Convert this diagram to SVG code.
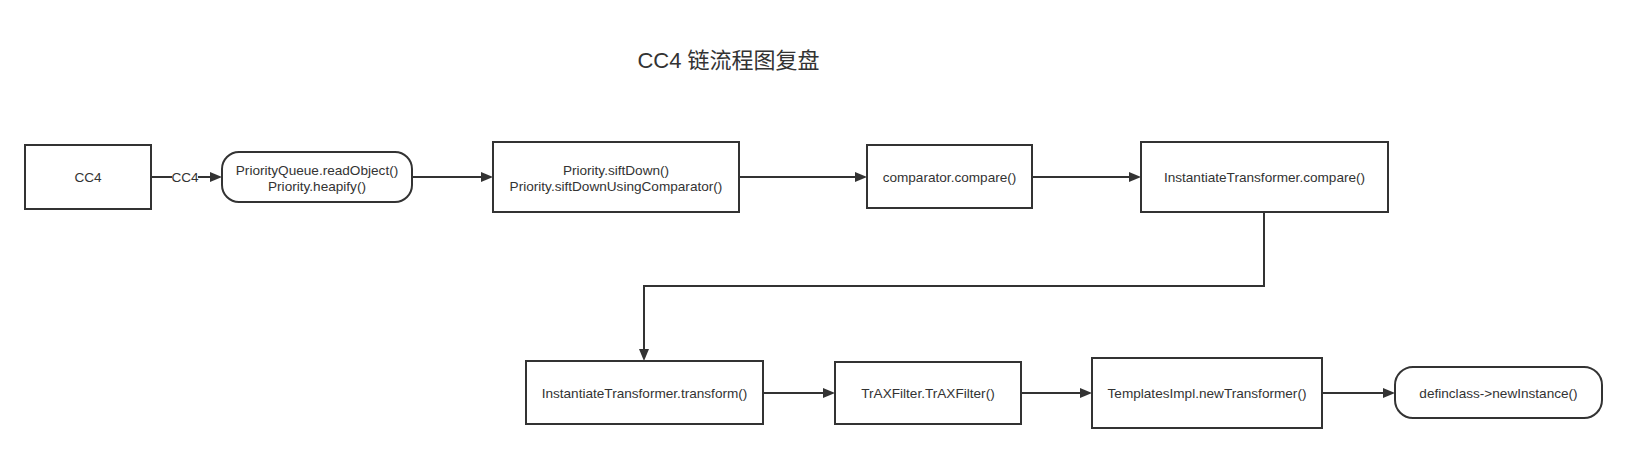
<svg xmlns="http://www.w3.org/2000/svg" width="1626" height="453" viewBox="0 0 1626 453">
<style>
.box{fill:#ffffff;stroke:#333333;stroke-width:2}
.lbl{font-family:"Liberation Sans",Arial,sans-serif;font-size:13.6px;fill:#333333;text-anchor:middle}
.edge{fill:none;stroke:#333333;stroke-width:2}
.title{font-family:"Liberation Sans","Noto Sans CJK SC",sans-serif;font-size:22px;fill:#333333;text-anchor:middle}
</style>
<defs>
<marker id="arr" markerUnits="userSpaceOnUse" markerWidth="12" markerHeight="10" viewBox="0 0 12 10" refX="0" refY="5" orient="auto">
<path d="M0,0 L12,5 L0,10 z" fill="#333333"/>
</marker>
</defs>
<rect width="1626" height="453" fill="#ffffff"/>
<text class="title" x="728.5" y="68">CC4 链流程图复盘</text>

<g id="connectors">
<path class="edge" d="M151,177 H210" marker-end="url(#arr)"/>
<rect x="172" y="169" width="26" height="16" fill="#ffffff"/>
<text class="lbl" x="185" y="182">CC4</text>
<path class="edge" d="M412,177 H481" marker-end="url(#arr)"/>
<path class="edge" d="M739,177 H855" marker-end="url(#arr)"/>
<path class="edge" d="M1032,177 H1129" marker-end="url(#arr)"/>
<path class="edge" d="M1264,212 V286 H644 V349" marker-end="url(#arr)"/>
<path class="edge" d="M763,393 H823" marker-end="url(#arr)"/>
<path class="edge" d="M1021,393 H1080" marker-end="url(#arr)"/>
<path class="edge" d="M1322,393 H1383" marker-end="url(#arr)"/>
</g>

<g id="n-cc4">
<rect class="box" x="25" y="145" width="126" height="64"/>
<text class="lbl" x="88" y="182">CC4</text>
</g>
<g id="n-pq">
<rect class="box" x="222" y="152" width="190" height="50" rx="17" ry="17"/>
<text class="lbl" x="317" y="174.5">PriorityQueue.readObject()</text>
<text class="lbl" x="317" y="190.5">Priority.heapify()</text>
</g>
<g id="n-sift">
<rect class="box" x="493" y="142" width="246" height="70"/>
<text class="lbl" x="616" y="174.5">Priority.siftDown()</text>
<text class="lbl" x="616" y="190.5">Priority.siftDownUsingComparator()</text>
</g>
<g id="n-comp">
<rect class="box" x="867" y="145" width="165" height="63"/>
<text class="lbl" x="949.5" y="182">comparator.compare()</text>
</g>
<g id="n-itcomp">
<rect class="box" x="1141" y="142" width="247" height="70"/>
<text class="lbl" x="1264.5" y="182">InstantiateTransformer.compare()</text>
</g>
<g id="n-ittrans">
<rect class="box" x="526" y="361" width="237" height="63"/>
<text class="lbl" x="644.5" y="398">InstantiateTransformer.transform()</text>
</g>
<g id="n-trax">
<rect class="box" x="835" y="362" width="186" height="62"/>
<text class="lbl" x="928" y="398">TrAXFilter.TrAXFilter()</text>
</g>
<g id="n-templates">
<rect class="box" x="1092" y="358" width="230" height="70"/>
<text class="lbl" x="1207" y="398">TemplatesImpl.newTransformer()</text>
</g>
<g id="n-defin">
<rect class="box" x="1395" y="367" width="207" height="51" rx="18" ry="18"/>
<text class="lbl" x="1498.5" y="398">definclass-&gt;newInstance()</text>
</g>
</svg>
